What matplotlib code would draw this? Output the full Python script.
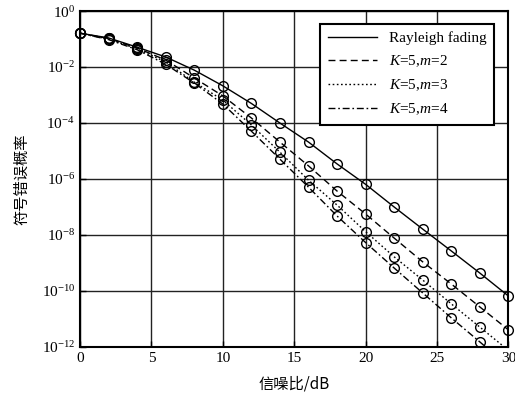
import numpy as np
import matplotlib
matplotlib.use("Agg")
import matplotlib.pyplot as plt

plt.rcParams["font.family"] = ["Liberation Serif", "Noto Sans CJK SC"]
plt.rcParams["mathtext.fontset"] = "custom"
plt.rcParams["mathtext.rm"] = "Liberation Serif"
plt.rcParams["mathtext.it"] = "Liberation Serif:italic"

# SNR points (dB) and log10 of symbol error rate
snr = [0, 2, 4, 6, 8, 10, 12, 14, 16, 18, 20, 22, 24, 26, 28, 30]
log_rayleigh = [-0.79, -0.96, -1.29, -1.64, -2.11, -2.67, -3.30, -4.00,
                -4.68, -5.46, -6.19, -7.00, -7.79, -8.57, -9.36, -10.18]
log_m2 = [-0.79, -0.98, -1.32, -1.75, -2.39, -3.03, -3.82, -4.68,
          -5.53, -6.43, -7.25, -8.11, -8.96, -9.75, -10.57, -11.39]
log_m3 = [-0.79, -1.00, -1.35, -1.82, -2.54, -3.18, -4.07, -5.04,
          -6.04, -6.93, -7.88, -8.78, -9.61, -10.46, -11.29, -12.12]
log_m4 = [-0.79, -1.02, -1.38, -1.90, -2.57, -3.32, -4.29, -5.29,
          -6.29, -7.32, -8.27, -9.18, -10.07, -10.96, -11.82, -12.70]

labels = ["Rayleigh fading", "$K$=5,$m$=2", "$K$=5,$m$=3", "$K$=5,$m$=4"]
styles = ["-", (0, (5, 3)), (0, (1.2, 1.8)), (0, (5, 2, 1.2, 2))]

fig = plt.figure(figsize=(5.15, 3.99), dpi=100)
ax = fig.add_axes([0.1553, 0.1303, 0.832, 0.842])

for vals, lab, ls in zip([log_rayleigh, log_m2, log_m3, log_m4], labels, styles):
    x = np.array(snr)
    y = 10.0 ** np.array(vals)
    ax.semilogy(x, y, color="black", linestyle=ls, linewidth=1.0, label=lab)
    # markers only where the point lies inside the plotted range
    keep = y >= 1e-12
    ax.semilogy(x[keep], y[keep], color="black", linestyle="none",
                marker="o", markersize=7, markerfacecolor="none",
                markeredgewidth=1.0, clip_on=False)

ax.set_xlim(0, 30)
ax.set_ylim(1e-12, 1e0)
ax.set_xticks([0, 5, 10, 15, 20, 25, 30])
ax.set_yticks([10.0 ** -k for k in range(0, 13, 2)])
ax.set_yticklabels(["$10^{%d}$" % (-k) if k else "$10^{0}$" for k in range(0, 13, 2)])
ax.minorticks_off()
ax.tick_params(direction="in", labelsize=11, length=4, width=1)
ax.grid(True, color="#222222", linewidth=1.0)
for s in ax.spines.values():
    s.set_linewidth(1.5)

ax.set_xlabel("信噪比/dB", fontsize=11, family=["Noto Sans CJK SC"], labelpad=8)
ax.set_ylabel("符号错误概率", fontsize=11, family=["Noto Sans CJK SC"], labelpad=8)

leg = ax.legend(loc="upper right", fontsize=11, fancybox=False, framealpha=1,
                edgecolor="black", handlelength=3.2, borderpad=0.5,
                labelspacing=0.55, bbox_to_anchor=(0.985, 0.985))
leg.get_frame().set_linewidth(1.5)

fig.savefig("out.png", dpi=100)
